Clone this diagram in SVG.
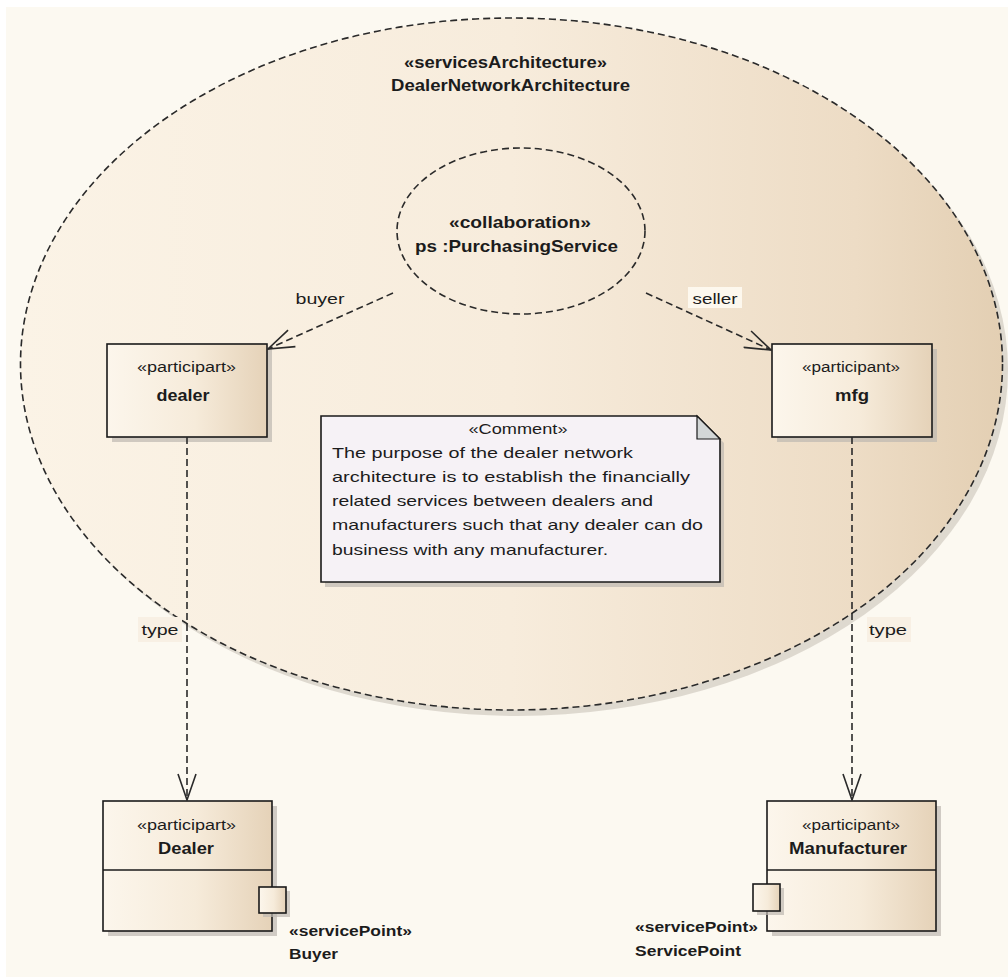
<svg xmlns="http://www.w3.org/2000/svg" width="1008" height="977" viewBox="0 0 1008 977">
<defs>
<style>
.t{font-family:"Liberation Sans",Arial,sans-serif;fill:#1c1c1c}
.st{font-size:14px}
.nm{font-size:17px;font-weight:bold}
.b{font-weight:bold}
.lb{font-size:15px}
.box{stroke:#1a1a1a;stroke-width:1.6}
.sh{fill:#bdb8b0;opacity:0.7}
.dash{fill:none;stroke:#2a2a2a;stroke-width:1.6;stroke-dasharray:7 4}
</style>
<linearGradient id="gBox" x1="0" y1="0" x2="1" y2="0">
<stop offset="0" stop-color="#fcf6ec"/>
<stop offset="0.55" stop-color="#f6ebda"/>
<stop offset="1" stop-color="#e5d2b8"/>
</linearGradient>
<linearGradient id="gBig" x1="0" y1="0" x2="1" y2="0">
<stop offset="0" stop-color="#fbf3e6"/>
<stop offset="0.5" stop-color="#f7ecdc"/>
<stop offset="0.85" stop-color="#eddcc5"/>
<stop offset="1" stop-color="#e3cfb3"/>
</linearGradient>
<marker id="arr" viewBox="0 0 28 20" refX="27" refY="10" markerWidth="28" markerHeight="20" markerUnits="userSpaceOnUse" orient="auto">
<path d="M1,1 L27,10 L1,19" fill="none" stroke="#2a2a2a" stroke-width="1.6"/>
</marker>
</defs>
<rect x="0" y="0" width="1008" height="977" fill="#ffffff"/>
<rect x="6" y="7" width="1002" height="970" fill="#fcf9f1"/>

<g id="DealerNetworkArchitecture">
<ellipse cx="517" cy="370" rx="491" ry="346" fill="#c9c3b9" opacity="0.6"/>
<ellipse cx="511.5" cy="364" rx="491" ry="346" fill="url(#gBig)" stroke="#2a2a2a" stroke-width="1.6" stroke-dasharray="7 4"/>
<text class="t b" x="505.5" y="68" font-size="16" text-anchor="middle" textLength="203" lengthAdjust="spacingAndGlyphs">«servicesArchitecture»</text>
<text class="t b" x="510.5" y="91" font-size="16" text-anchor="middle" textLength="239" lengthAdjust="spacingAndGlyphs">DealerNetworkArchitecture</text>
</g>

<g id="ps">
<ellipse cx="521" cy="231" rx="124" ry="83" fill="none" stroke="#2a2a2a" stroke-width="1.6" stroke-dasharray="7 4"/>
<text class="t b" x="520" y="228" font-size="16" text-anchor="middle" textLength="142" lengthAdjust="spacingAndGlyphs">«collaboration»</text>
<text class="t b" x="516.5" y="252" font-size="17" text-anchor="middle" textLength="203" lengthAdjust="spacingAndGlyphs">ps :PurchasingService</text>
</g>

<g id="dealer">
<rect class="sh" x="112" y="349" width="160" height="93"/>
<rect class="box" x="107" y="344" width="160" height="93" fill="url(#gBox)"/>
<text class="t st" x="186.5" y="372" text-anchor="middle" textLength="99" lengthAdjust="spacingAndGlyphs">«participart»</text>
<text class="t nm" x="183" y="401" text-anchor="middle" textLength="53" lengthAdjust="spacingAndGlyphs">dealer</text>
</g>

<g id="mfg">
<rect class="sh" x="777" y="349" width="160" height="93"/>
<rect class="box" x="772" y="344" width="160" height="93" fill="url(#gBox)"/>
<text class="t st" x="851" y="372" text-anchor="middle" textLength="98" lengthAdjust="spacingAndGlyphs">«participant»</text>
<text class="t nm" x="852" y="401" text-anchor="middle" textLength="34" lengthAdjust="spacingAndGlyphs">mfg</text>
</g>

<g id="comment">
<path d="M325,420 H701 L724,443 V587 H325 Z" class="sh"/>
<path d="M321,416 H697 L720,439 V582 H321 Z" fill="#f6f2f6" class="box"/>
<path d="M697,416 V439 H720 Z" fill="#d3d7d7" stroke="#1a1a1a" stroke-width="1.2"/>
<text class="t st" x="518" y="434" text-anchor="middle" textLength="99" lengthAdjust="spacingAndGlyphs">«Comment»</text>
<text class="t lb" x="332" y="458" textLength="301" lengthAdjust="spacingAndGlyphs">The purpose of the dealer network</text>
<text class="t lb" x="332" y="482" textLength="358" lengthAdjust="spacingAndGlyphs">architecture is to establish the financially</text>
<text class="t lb" x="332" y="506" textLength="321" lengthAdjust="spacingAndGlyphs">related services between dealers and</text>
<text class="t lb" x="332" y="530" textLength="371" lengthAdjust="spacingAndGlyphs">manufacturers such that any dealer can do</text>
<text class="t lb" x="332" y="555" textLength="276" lengthAdjust="spacingAndGlyphs">business with any manufacturer.</text>
</g>

<g id="Dealer">
<rect class="sh" x="108" y="806" width="169" height="130"/>
<rect class="box" x="103" y="801" width="169" height="130" fill="url(#gBox)"/>
<line x1="103" y1="870" x2="272" y2="870" stroke="#1a1a1a" stroke-width="1.6"/>
<text class="t st" x="186.5" y="830" text-anchor="middle" textLength="99" lengthAdjust="spacingAndGlyphs">«participart»</text>
<text class="t nm" x="186" y="854" text-anchor="middle" textLength="56" lengthAdjust="spacingAndGlyphs">Dealer</text>
<g id="Buyer">
<rect class="sh" x="263" y="891" width="27" height="26"/>
<rect class="box" x="259" y="887" width="27" height="26" fill="url(#gBox)"/>
<text class="t b" x="289" y="936" font-size="14" textLength="123" lengthAdjust="spacingAndGlyphs">«servicePoint»</text>
<text class="t b" x="289" y="959" font-size="15" textLength="49" lengthAdjust="spacingAndGlyphs">Buyer</text>
</g>
</g>

<g id="Manufacturer">
<rect class="sh" x="772" y="806" width="169" height="130"/>
<rect class="box" x="767" y="801" width="169" height="130" fill="url(#gBox)"/>
<line x1="767" y1="870" x2="936" y2="870" stroke="#1a1a1a" stroke-width="1.6"/>
<text class="t st" x="851" y="830" text-anchor="middle" textLength="98" lengthAdjust="spacingAndGlyphs">«participant»</text>
<text class="t nm" x="848" y="854" text-anchor="middle" textLength="118" lengthAdjust="spacingAndGlyphs">Manufacturer</text>
<g id="ServicePoint">
<rect class="sh" x="757" y="888" width="27" height="27"/>
<rect class="box" x="753" y="884" width="27" height="27" fill="url(#gBox)"/>
<text class="t b" x="635" y="932" font-size="14" textLength="123" lengthAdjust="spacingAndGlyphs">«servicePoint»</text>
<text class="t b" x="635" y="956" font-size="15" textLength="106" lengthAdjust="spacingAndGlyphs">ServicePoint</text>
</g>
</g>

<g id="connectors">
<line class="dash" x1="393" y1="293" x2="268" y2="349" marker-end="url(#arr)"/>
<line class="dash" x1="646" y1="293" x2="771" y2="350" marker-end="url(#arr)"/>
<line class="dash" x1="187" y1="437" x2="187" y2="800" marker-end="url(#arr)"/>
<line class="dash" x1="852" y1="437" x2="852" y2="800" marker-end="url(#arr)"/>
<text class="t lb" x="320" y="304" text-anchor="middle" textLength="49" lengthAdjust="spacingAndGlyphs">buyer</text>
<rect x="688" y="287" width="54" height="21" fill="#fdf8ee"/>
<text class="t lb" x="715" y="304" text-anchor="middle" textLength="45" lengthAdjust="spacingAndGlyphs">seller</text>
<rect x="138" y="617" width="44" height="25" fill="#f8f0e4"/>
<text class="t lb" x="160" y="635" text-anchor="middle" textLength="37" lengthAdjust="spacingAndGlyphs">type</text>
<rect x="867" y="617" width="44" height="25" fill="#f8f0e4"/>
<text class="t lb" x="888" y="635" text-anchor="middle" textLength="38" lengthAdjust="spacingAndGlyphs">type</text>
</g>
</svg>
